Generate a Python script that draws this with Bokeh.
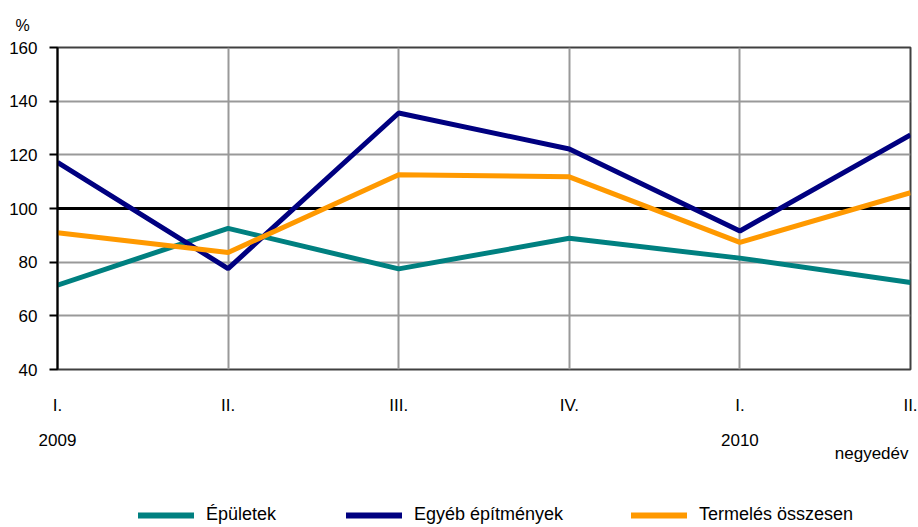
from bokeh.plotting import figure
from bokeh.layouts import column
from bokeh.models import (Range1d, FixedTicker, Span, Legend, LegendItem, LinearAxis, Title)
from bokeh.embed import file_html
from bokeh.resources import INLINE

# ---- data ----
quarters = ["I.", "II.", "III.", "IV.", "I.", "II."]
years = ["2009", "", "", "", "2010", ""]
epuletek = [71.4, 92.6, 77.5, 88.9, 81.5, 72.4]
egyeb = [117.2, 77.6, 135.6, 122.2, 91.6, 127.4]
termeles = [91.0, 83.6, 112.6, 111.8, 87.4, 105.9]
y_ticks = [40, 60, 80, 100, 120, 140, 160]
baseline = 100
series_names = ["Épületek", "Egyéb építmények", "Termelés összesen"]
colors = ["#008080", "#000080", "#FF9900"]
xs = list(range(len(quarters)))

FONT = "Liberation Sans"
TICK_SIZE = "17px"
W = 918
H_MAIN, H_LEG = 490, 37

p = figure(width=W, height=H_MAIN, output_backend="svg", toolbar_location=None,
           x_range=Range1d(0, len(quarters) - 1), y_range=Range1d(y_ticks[0], y_ticks[-1]),
           min_border_left=57, min_border_right=8, min_border_top=47, min_border_bottom=121)

p.background_fill_color = "white"
p.border_fill_color = "white"
p.outline_line_color = "#404040"
p.outline_line_width = 2

# "%" unit label as a left-aligned title
p.title.text = "%"
p.title.align = "left"
p.title.offset = -42
p.title.standoff = 28
p.title.text_font = FONT
p.title.text_font_size = "16px"
p.title.text_font_style = "normal"
p.title.text_color = "black"

# grids
p.xgrid.ticker = FixedTicker(ticks=xs)
p.ygrid.ticker = FixedTicker(ticks=y_ticks)
for g in (p.xgrid, p.ygrid):
    g.grid_line_color = "#999999"
    g.grid_line_width = 2

# y axis
ya = p.yaxis[0]
ya.ticker = FixedTicker(ticks=y_ticks)
ya.axis_line_color = "black"
ya.axis_line_width = 2
ya.major_tick_line_color = "black"
ya.major_tick_line_width = 2
ya.major_tick_out = 8
ya.major_tick_in = 0
ya.minor_tick_line_color = None
ya.major_label_standoff = 12
ya.major_label_text_font = FONT
ya.major_label_text_font_size = TICK_SIZE
ya.major_label_text_color = "black"


def style_x(ax, standoff):
    ax.axis_line_color = None
    ax.major_tick_line_color = None
    ax.minor_tick_line_color = None
    ax.major_label_standoff = standoff
    ax.major_label_text_font = FONT
    ax.major_label_text_font_size = TICK_SIZE
    ax.major_label_text_color = "black"


# x axis: quarters
xa = p.xaxis[0]
xa.ticker = FixedTicker(ticks=xs)
xa.major_label_overrides = {i: q for i, q in enumerate(quarters)}
style_x(xa, 20)

# second x axis: years
year_ticks = [i for i, y in enumerate(years) if y]
xa2 = LinearAxis(ticker=FixedTicker(ticks=year_ticks),
                 major_label_overrides={i: years[i] for i in year_ticks})
style_x(xa2, 10)
p.add_layout(xa2, "below")

# "negyedév" under the right end
p.add_layout(Title(text="negyedév", align="right", offset=2, text_font=FONT,
                   text_font_size="17px", text_font_style="normal", text_color="black",
                   standoff=-14), "below")

# reference line at 100
p.add_layout(Span(location=baseline, dimension="width", line_color="black",
                  line_width=3, level="underlay"))

# data lines
for vals, col in zip([epuletek, egyeb, termeles], colors):
    p.line(xs, vals, line_color=col, line_width=5)

# ---- legend strip below the chart ----
pl = figure(width=W, height=H_LEG, output_backend="svg", toolbar_location=None,
            x_range=Range1d(0, 1), y_range=Range1d(0, 1),
            x_axis_location=None, y_axis_location=None,
            min_border_left=0, min_border_right=0, min_border_top=0, min_border_bottom=0)
pl.outline_line_color = None
pl.xgrid.visible = False
pl.ygrid.visible = False
pl.background_fill_color = "white"
pl.border_fill_color = "white"

nan = float("nan")
legend_x = [81, 289, 574]  # offsets from the (aligned) frame's left edge
for name, col, lx in zip(series_names, colors, legend_x):
    dummy = pl.line(x=[nan], y=[nan], line_color=col, line_width=6, line_cap="round")
    lg = Legend(items=[LegendItem(label=name, renderers=[dummy])], location=(lx, 2),
                orientation="horizontal", glyph_width=56, glyph_height=20, label_standoff=12,
                padding=0, margin=0, border_line_color=None, background_fill_alpha=0,
                label_text_font=FONT, label_text_font_size="18px", label_text_color="black")
    pl.add_layout(lg, "center")

layout = column(p, pl, spacing=0)
open("out.html", "w").write(file_html(layout, INLINE))
